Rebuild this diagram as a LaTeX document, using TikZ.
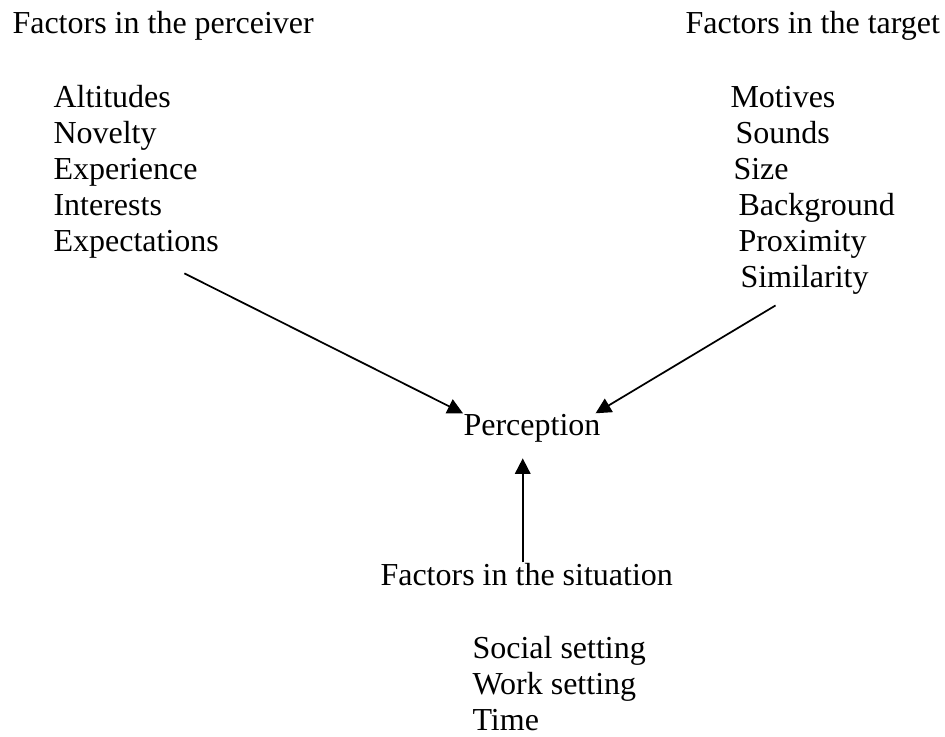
\documentclass[tikz,border=0pt]{standalone}
\usepackage{fontspec}
\setmainfont{Liberation Serif}
\usetikzlibrary{arrows.meta}
\tikzset{
	lbl/.style={anchor=base west, inner sep=0pt, font=\fontsize{12}{13.8}\selectfont},
	arr/.style={-{Triangle[length=5.8pt,width=5.8pt]}, line width=0.65pt}
}
\begin{document}
\begin{tikzpicture}[x=0.375pt, y=-0.375pt]
		\useasboundingbox (0, 0) rectangle (945, 736);
		
		\node[lbl] (perceiver) at (12, 33) {Factors in the perceiver};
		\node[lbl] (altit) at (53, 107) {Altitudes};
		\node[lbl] (novel) at (53, 143) {Novelty};
		\node[lbl] (exper) at (53, 179) {Experience};
		\node[lbl] (inter) at (53, 215) {Interests};
		\node[lbl] (expect) at (53, 251) {Expectations};
		
		\node[lbl] (target) at (685, 33) {Factors in the target};
		\node[lbl] (motiv) at (730, 107) {Motives};
		\node[lbl] (sound) at (735, 143) {Sounds};
		\node[lbl] (size) at (733, 179) {Size};
		\node[lbl] (backgr) at (738, 215) {Background};
		\node[lbl] (proxim) at (738, 251) {Proximity};
		\node[lbl] (simil) at (740, 287) {Similarity};
		
		\node[lbl] (percep) at (463, 435) {Perception};
		
		\node[lbl] (situ) at (380, 585) {Factors in the situation};
		\node[lbl] (social) at (472, 658) {Social setting};
		\node[lbl] (work) at (472, 694) {Work setting};
		\node[lbl] (time) at (472, 730) {Time};
		
		\draw[arr] ([shift={(-35, 15)}]expect.south east) -- (percep.north west);
		\draw[arr] ([shift={(-29, 11)}]simil.south) -- ([xshift=-2pt]percep.north east);
		\draw[arr] ([xshift=-1.5pt]situ.north) -- ([xshift=-1.5pt]situ.north |- percep.south) [shorten >=6pt];
	\end{tikzpicture}
\end{document}
